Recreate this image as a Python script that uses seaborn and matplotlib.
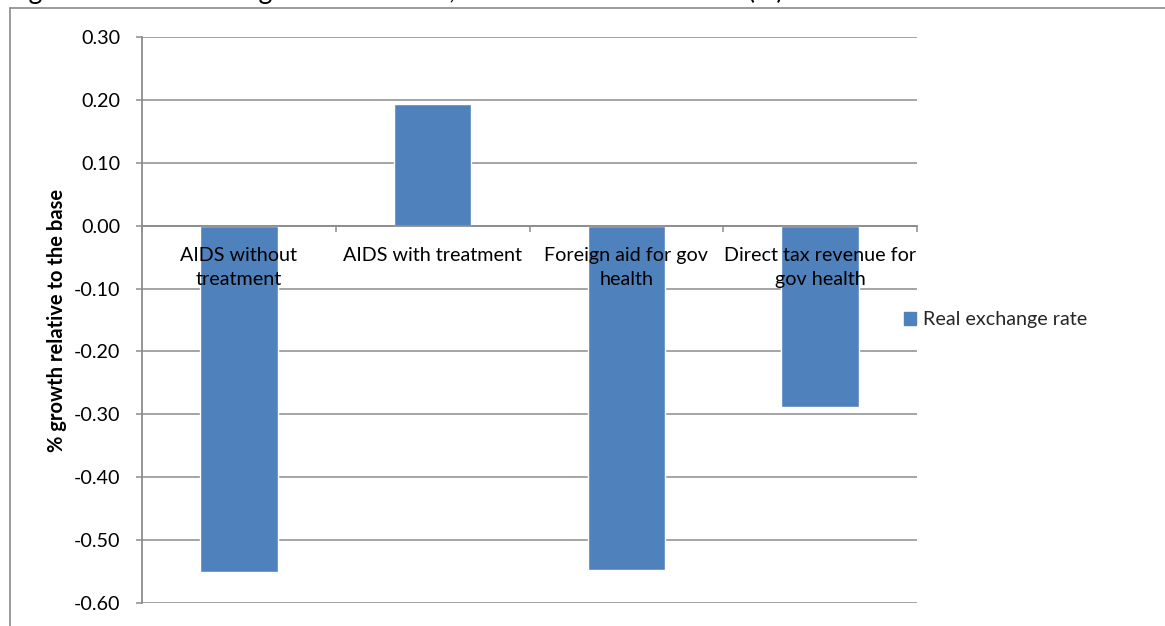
import matplotlib
matplotlib.use("Agg")
import matplotlib.pyplot as plt
import seaborn as sns
import pandas as pd
from matplotlib.patches import Patch
from matplotlib.lines import Line2D
from matplotlib.ticker import FixedLocator

# ---- data -------------------------------------------------------------
categories = [
    "AIDS without\ntreatment",
    "AIDS with treatment",
    "Foreign aid for gov\nhealth",
    "Direct tax revenue for\ngov health",
]
real_exchange_rate = [-0.551, 0.193, -0.548, -0.289]
series_name = "Real exchange rate"
y_ticks = [-0.60, -0.50, -0.40, -0.30, -0.20, -0.10, 0.00, 0.10, 0.20, 0.30]
y_tick_labels = ["%.2f" % v for v in y_ticks]
y_label = "% growth relative to the base"
title = "Figure 3: Real exchange rates in 2015, deviation from the base (%)"

# ---- style ------------------------------------------------------------
W, H = 1165, 626
BAR = "#4F81BD"
GRID = "#8C8C8C"
sns.set_theme(style="white")
plt.rcParams["font.family"] = ["Lato", "DejaVu Sans"]
plt.rcParams["axes.unicode_minus"] = False
FS = 14.2

fig = plt.figure(figsize=(W / 100, H / 100), dpi=100)
fig.patch.set_facecolor("white")
ax = fig.add_axes([142 / W, 1 - 603 / H, (917 - 142) / W, (603 - 37) / H])

df = pd.DataFrame({"scenario": categories, "value": real_exchange_rate})
sns.barplot(data=df, x="scenario", y="value", color=BAR, saturation=1,
            width=0.4, errorbar=None, ax=ax, zorder=2)

ax.set_xlim(-0.5, len(categories) - 0.5)
ax.set_ylim(y_ticks[0], y_ticks[-1])
ax.set_xlabel("")
ax.set_ylabel("")

# y axis: gridlines behind the bars
ax.set_yticks(y_ticks)
ax.set_yticklabels(y_tick_labels, fontsize=FS, color="black")
ax.yaxis.grid(True, color=GRID, linewidth=1.1)
ax.yaxis.set_zorder(0.5)
ax.tick_params(axis="y", direction="out", length=4.5, width=1.1,
               color=GRID, pad=11, left=True)

# category axis runs along zero, its labels drawn over the bars
ax.xaxis.set_zorder(3)
ax.spines["bottom"].set_position(("data", 0))
for side in ("top", "right"):
    ax.spines[side].set_visible(False)
for side in ("left", "bottom"):
    ax.spines[side].set_color(GRID)
    ax.spines[side].set_linewidth(1.3)
    ax.spines[side].set_zorder(3)
ax.xaxis.set_minor_locator(FixedLocator([i - 0.5 for i in range(len(categories) + 1)]))
ax.tick_params(axis="x", which="major", length=0, pad=15.5, labelsize=FS,
               labelcolor="black")
ax.tick_params(axis="x", which="minor", direction="out", length=4.5,
               width=1.1, color=GRID, bottom=True)
for lab in ax.get_xticklabels():
    lab.set_linespacing(1.5)

# legend on the right
fig.legend(handles=[Patch(facecolor=BAR, edgecolor=BAR, label=series_name)],
           loc="center left", bbox_to_anchor=(904 / W, 1 - 320 / H),
           frameon=False, fontsize=FS, handlelength=0.6, handleheight=0.6,
           handletextpad=0.35, borderpad=0, borderaxespad=0)

fig.text(57 / W, 1 - 320 / H, y_label, rotation=90, ha="center", va="center",
         fontsize=14.5, fontweight="bold", color="black")

# chart frame
fig.add_artist(Line2D([10 / W, 10 / W], [0, 1 - 8 / H], color="#8A8A8A",
                      lw=1.2, transform=fig.transFigure))
fig.add_artist(Line2D([10 / W, 1], [1 - 8 / H, 1 - 8 / H], color="#8A8A8A",
                      lw=1.2, transform=fig.transFigure))

# caption above the frame, sized to run from its first "g" to x=787
t = fig.text(0, 1 + 1.5 / H, title, fontsize=16, va="baseline", ha="left",
             color="black")
fig.canvas.draw()
r = fig.canvas.get_renderer()
probe = fig.text(0, 0, "Fi", fontsize=16)
w_fi = probe.get_window_extent(r).width
probe.remove()
w_full = t.get_window_extent(r).width
s = (787 - 29) / (w_full - w_fi)
t.set_fontsize(16 * s)
t.set_x((29 - w_fi * s) / W)

fig.savefig("out.png", dpi=100, facecolor="white")
